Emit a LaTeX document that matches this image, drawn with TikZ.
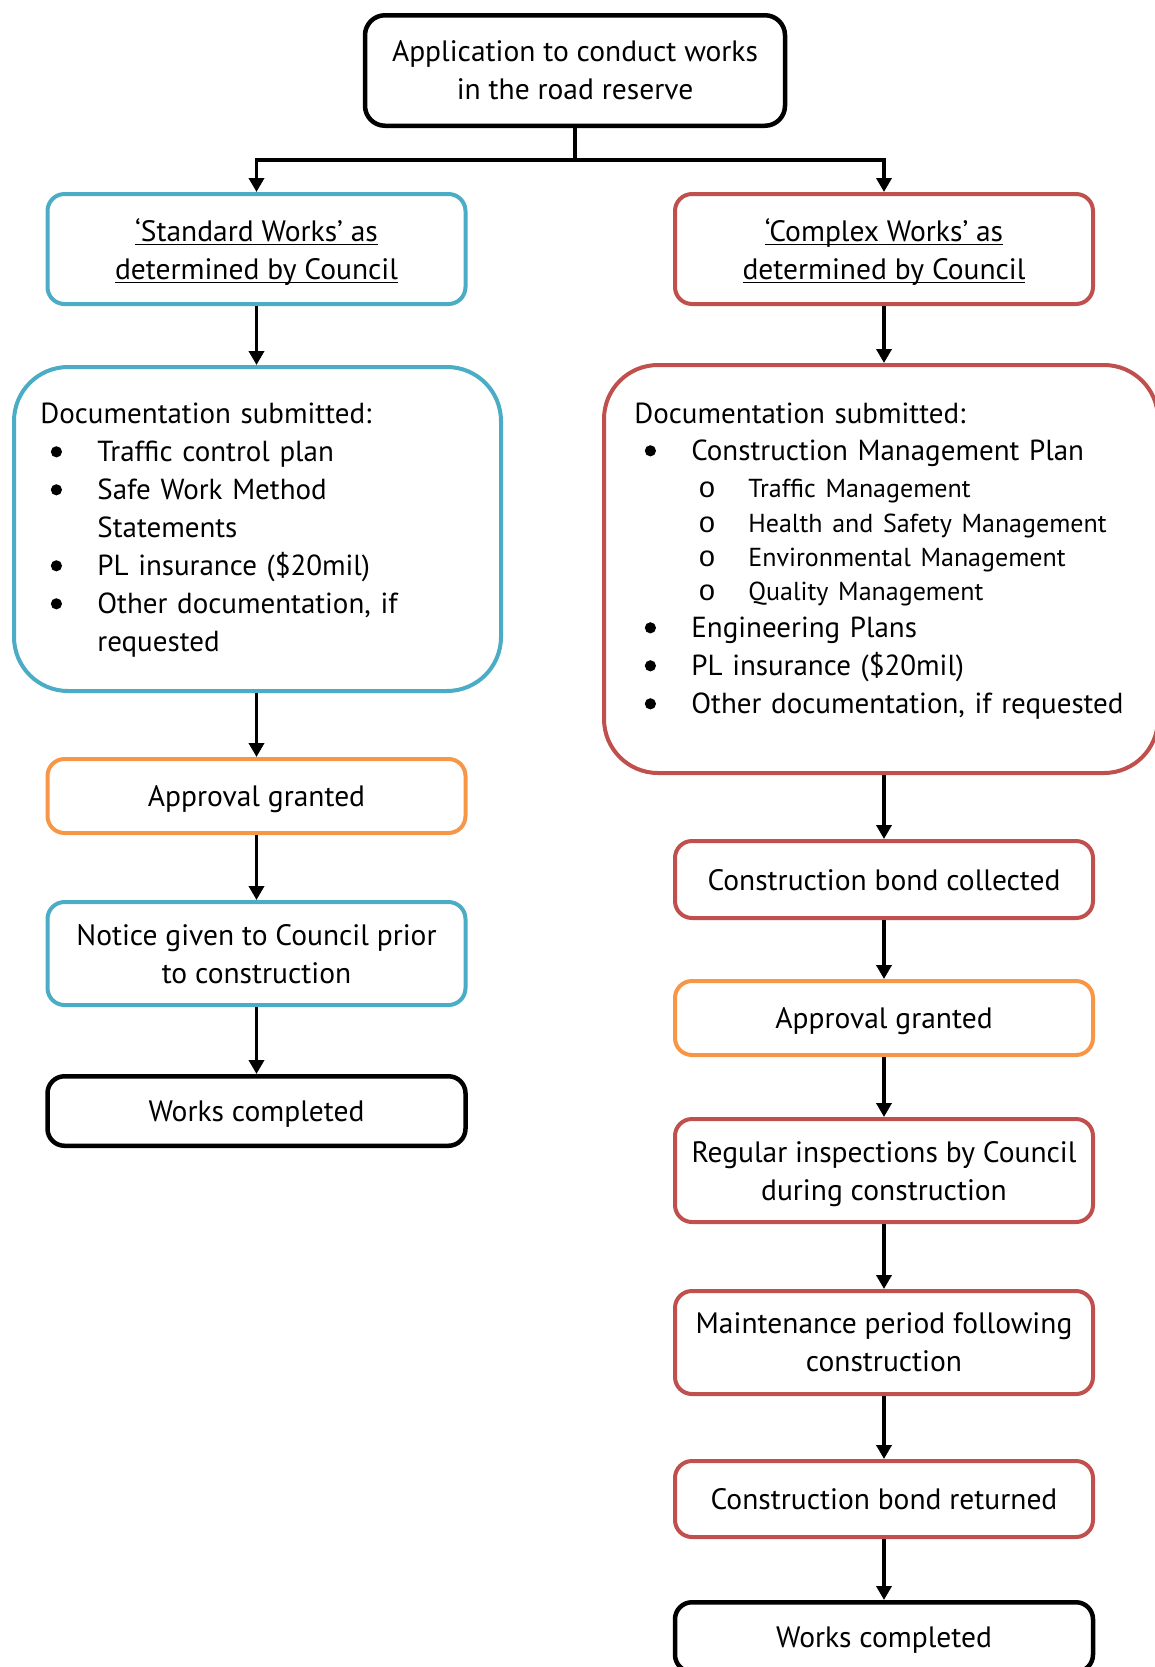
\documentclass[tikz,border=0pt]{standalone}
\usepackage{fontspec}
\setmainfont{PT Sans}
\newfontfamily\ringfont{Liberation Mono}
\usetikzlibrary{arrows.meta, positioning}

\definecolor{cblue}{HTML}{4BACC6}
\definecolor{cred}{HTML}{C0504D}
\definecolor{corange}{HTML}{F79646}

% list helpers for the documentation boxes
\newcommand{\bul}{\makebox[28.5pt][l]{\hspace*{5.2pt}\tikz[baseline=0pt]\fill (2.8pt,4.6pt) circle[radius=2.8pt];}}
\newcommand{\subbul}{\makebox[57pt][l]{\hspace*{32pt}{\ringfont o}}}
\newcommand{\cont}{\hspace*{28.5pt}}
\newcommand{\subsz}{\fontsize{13}{17}\selectfont}
% heavier underline for the two headings
\newsavebox{\ulbox}
\newcommand{\uln}[1]{\sbox{\ulbox}{#1}\rlap{\rule[-2pt]{\wd\ulbox}{0.9pt}}\usebox{\ulbox}}

\begin{document}
\begin{tikzpicture}[x=0.5pt, y=-0.5pt,
    box/.style={draw, fill=white, rounded corners=8.5pt, line width=2pt, minimum width=209pt, align=center, inner sep=2pt, text depth=0pt, font=\fontsize{14.75}{19}\selectfont},
    bluebox/.style={box, draw=cblue},
    redbox/.style={box, draw=cred},
    orangebox/.style={box, draw=corange},
    blackbox/.style={box, draw=black, line width=2.25pt},
    docbox/.style={draw, fill=white, rounded corners=27pt, line width=2pt},
    listtext/.style={anchor=base west, align=left, text width=275pt, inner sep=0pt, font=\fontsize{14.5}{19}\selectfont},
    arr/.style={-{Triangle[length=7pt, width=7.5pt]}, line width=1.75pt}]
  \useasboundingbox (0,0) rectangle (1155,1667);

  % top
  \node[blackbox, minimum width=210pt, minimum height=55.25pt, rounded corners=10pt] (app) at (575,70.5) {Application to conduct works\\in the road reserve};
  \coordinate (split) at (575,160);

  % standard works
  \node[bluebox, minimum height=55pt] (std) at (256.5,249) {\uln{‘Standard Works’ as}\\\uln{determined by Council}};
  \node[docbox, draw=cblue, minimum width=243.5pt, minimum height=162pt] (sdoc) at (257.5,529) {};
  \node[listtext] (sdoclist) at (40,423) {Documentation submitted:\\
    \bul Traffic control plan\\
    \bul Safe Work Method\\
    \cont Statements\\
    \bul PL insurance (\$20mil)\\
    \bul Other documentation, if\\
    \cont requested};
  \node[orangebox, minimum height=37pt] (sapp) at (256.5,796) {Approval granted};
  \node[bluebox, minimum height=51.5pt] (snot) at (256.5,953.5) {Notice given to Council prior\\to construction};
  \node[blackbox, minimum height=34.75pt] (sdone) at (256.5,1111) {Works completed};

  % complex works
  \node[redbox, minimum height=55pt] (cpx) at (884,249) {\uln{‘Complex Works’ as}\\\uln{determined by Council}};
  \node[docbox, draw=cred, minimum width=277pt, minimum height=204pt] (cdoc) at (881,569) {};
  \node[listtext] (cdoclist) at (634,423) {Documentation submitted:\\[-0.5pt]
    \bul Construction Management Plan\\[-0.5pt]
    \subbul{\subsz Traffic Management}\\[-1.5pt]
    \subbul{\subsz Health and Safety Management}\\[-2pt]
    \subbul{\subsz Environmental Management}\\[-2pt]
    \subbul{\subsz Quality Management}\\[-0.5pt]
    \bul Engineering Plans\\
    \bul PL insurance (\$20mil)\\
    \bul Other documentation, if requested};
  \node[redbox, minimum height=38.5pt] (cbond) at (884,879.5) {Construction bond collected};
  \node[orangebox, minimum height=37pt] (capp) at (884,1018) {Approval granted};
  \node[redbox, minimum height=51.5pt] (cinsp) at (884,1170.5) {Regular inspections by Council\\during construction};
  \node[redbox, minimum height=51.5pt] (cmaint) at (884,1342.5) {Maintenance period following\\construction};
  \node[redbox, minimum height=38pt] (cret) at (884,1499) {Construction bond returned};
  \node[blackbox, minimum height=34.75pt] (cdone) at (884,1637) {Works completed};

  % connectors
  \draw[line width=1.75pt] (app) -- (split);
  \draw[arr] (split) -| (std);
  \draw[arr] (split) -| (cpx);
  \draw[arr] (std) -- (sdoc.north -| std);
  \draw[arr] (sdoc.south -| sapp) -- (sapp);
  \draw[arr] (sapp) -- (snot);
  \draw[arr] (snot) -- (sdone);
  \draw[arr] (cpx) -- (cdoc.north -| cpx);
  \draw[arr] (cdoc.south -| cbond) -- (cbond);
  \draw[arr] (cbond) -- (capp);
  \draw[arr] (capp) -- (cinsp);
  \draw[arr] (cinsp) -- (cmaint);
  \draw[arr] (cmaint) -- (cret);
  \draw[arr] (cret) -- (cdone);
\end{tikzpicture}
\end{document}
